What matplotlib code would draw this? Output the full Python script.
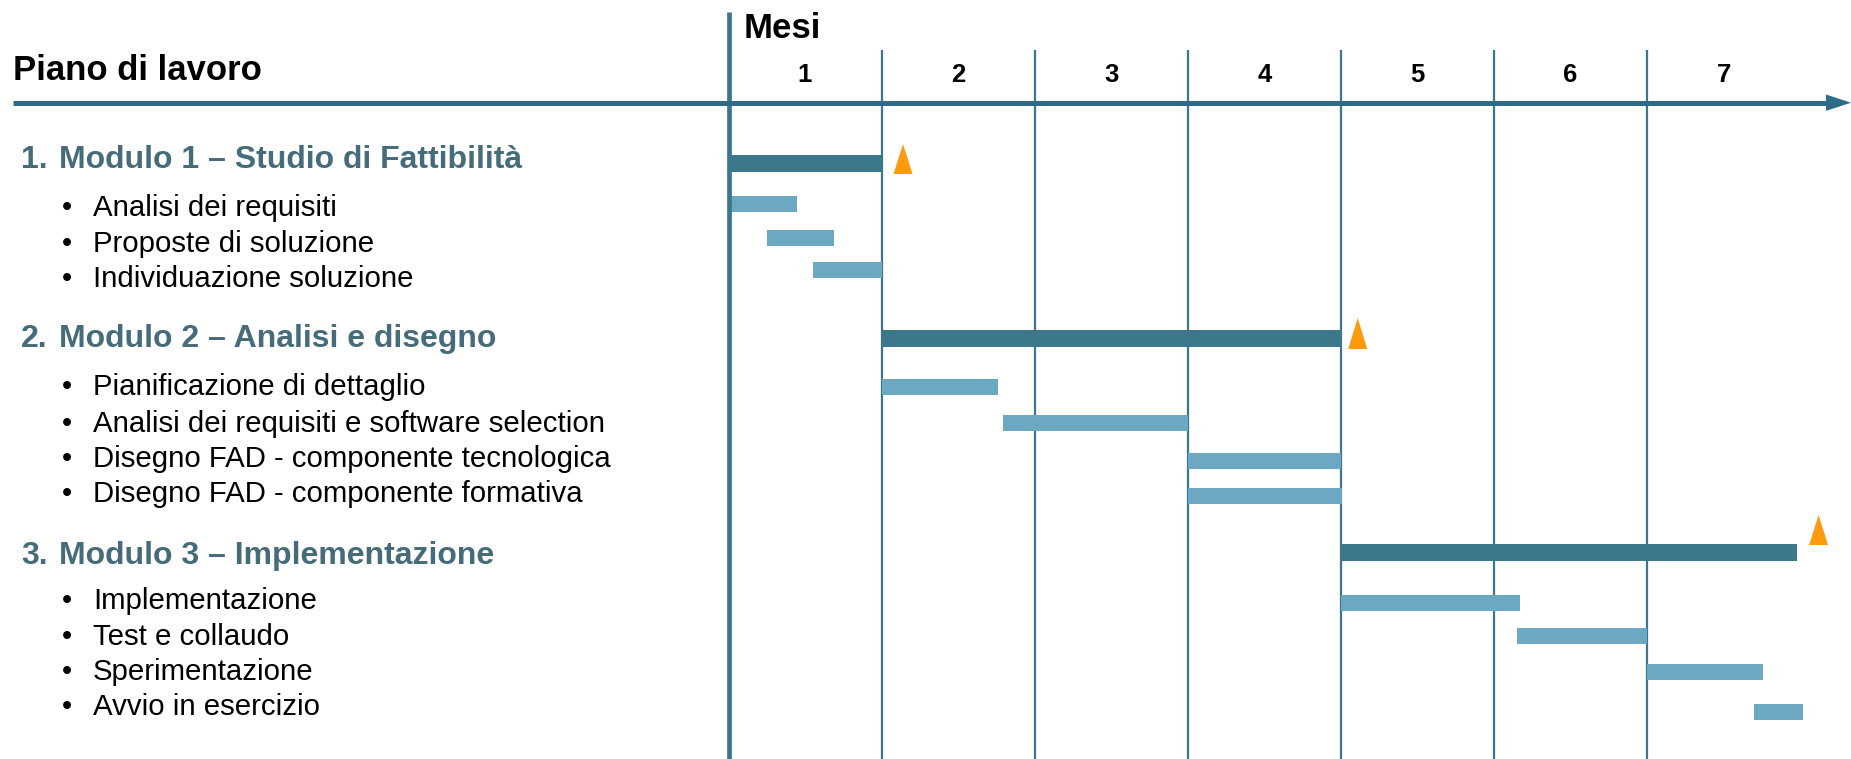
import matplotlib
matplotlib.use("Agg")
import matplotlib.pyplot as plt

# --- data -------------------------------------------------------------
months = ["1", "2", "3", "4", "5", "6", "7"]

module_names = ["Modulo 1 – Studio di Fattibilità",
                "Modulo 2 – Analisi e disegno",
                "Modulo 3 – Implementazione"]
module_start = [0.0, 1.0, 4.0]
module_end = [1.0, 4.0, 6.98]
milestones = [1.14, 4.11, 7.12]

task_names = ["Analisi dei requisiti",
              "Proposte di soluzione",
              "Individuazione soluzione",
              "Pianificazione di dettaglio",
              "Analisi dei requisiti e software selection",
              "Disegno FAD - componente tecnologica",
              "Disegno FAD - componente formativa",
              "Implementazione",
              "Test e collaudo",
              "Sperimentazione",
              "Avvio in esercizio"]
task_start = [0.0, 0.25, 0.55, 1.0, 1.79, 3.0, 3.0, 4.0, 5.15, 6.0, 6.70]
task_end = [0.45, 0.69, 1.0, 1.76, 3.0, 4.0, 4.01, 5.17, 6.0, 6.76, 7.02]

# --- layout (pixels from top of a 1851x759 canvas) ---------------------
W, H = 1851, 759
x0_px, month_px = 728.5, 153.1
module_text_y = [168, 347, 564]
module_bar_y = [163.5, 338.5, 552.5]
milestone_y = [(174, 144), (349, 318), (545, 515)]
task_text_y = [216, 251.7, 286.7, 395, 431.7, 466.7, 501.7, 609, 645, 680, 715]
task_bar_y = [204, 238, 270, 387, 423, 461, 496, 602.5, 636, 671.5, 711.5]

line_col = "#3B768A"
axis_col = "#2E6B88"
dark_col = "#3D778C"
light_col = "#6DA8C2"
orange = "#FF9A0E"
title_col = "#466B79"
font = "Liberation Sans"

fig = plt.figure(figsize=(W / 100, H / 100), dpi=100)
ax = fig.add_axes([0, 0, 1, 1])
ax.set_xlim(-x0_px / month_px, (W - x0_px) / month_px)
ax.set_ylim(H, 0)
ax.axis("off")
yt = ax.get_yaxis_transform()

# grid lines
ax.vlines(range(1, 7), 50, H, color=line_col, lw=1.6)
ax.vlines(0, 11.7, H, color=line_col, lw=3.4, zorder=4)

# time axis with arrow
ax.plot([13 / W, 1828 / W], [102.7, 102.7], color=axis_col, lw=3.6,
        transform=yt, solid_capstyle="butt", zorder=5)
ax.fill([1826 / W, 1851 / W, 1826 / W], [94.5, 102.7, 110.9],
        color=axis_col, transform=yt, lw=0, zorder=5)

# header text
ax.text(13 / W, 80, "Piano di lavoro", transform=yt, fontsize=25,
        fontweight="bold", family=font, va="baseline")
ax.text(744 / W, 38.3, "Mesi", transform=yt, fontsize=25,
        fontweight="bold", family=font, va="baseline")
for i, m in enumerate(months):
    ax.text(i + 0.5, 81.7, m, fontsize=18.5, fontweight="bold", family=font,
            ha="center", va="baseline")

# modules
for i, name in enumerate(module_names):
    ax.barh(module_bar_y[i], module_end[i] - module_start[i],
            left=module_start[i], height=17, color=dark_col, zorder=3)
    hw = 9.5 / month_px
    base, top = milestone_y[i]
    ax.fill([milestones[i] - hw, milestones[i], milestones[i] + hw],
            [base, top, base], color=orange, lw=0, zorder=3)
    ax.text(21 / W, module_text_y[i], f"{i + 1}.", transform=yt,
            fontsize=23, fontweight="bold", color=title_col, family=font,
            va="baseline")
    ax.text(59 / W, module_text_y[i], name, transform=yt, fontsize=23,
            fontweight="bold", color=title_col, family=font, va="baseline")

# tasks
for i, name in enumerate(task_names):
    ax.barh(task_bar_y[i], task_end[i] - task_start[i], left=task_start[i],
            height=16, color=light_col, zorder=3)
    ax.text(62 / W, task_text_y[i], "•", transform=yt, fontsize=21,
            family=font, va="baseline")
    ax.text(93 / W, task_text_y[i], name, transform=yt, fontsize=21.2,
            family=font, va="baseline")

fig.savefig("out.png", dpi=100)
